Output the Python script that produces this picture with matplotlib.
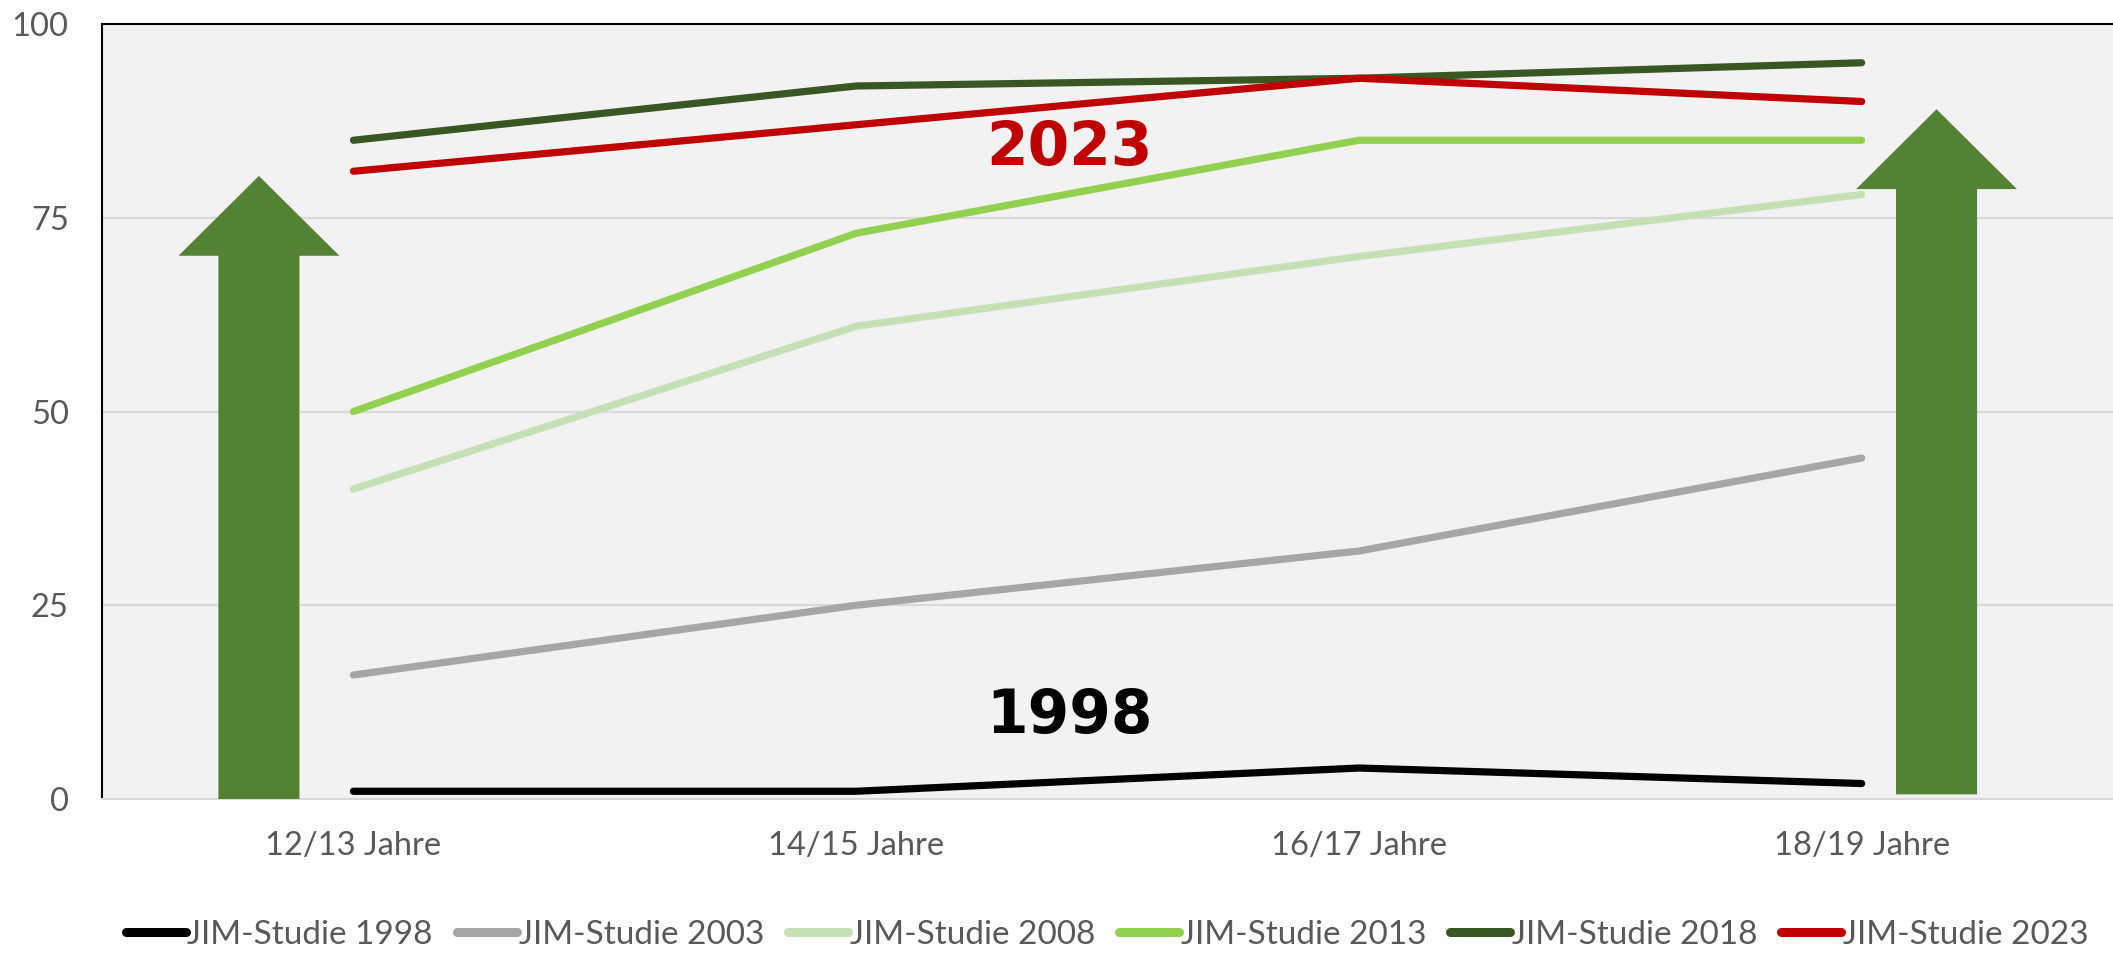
import matplotlib
matplotlib.use("Agg")
import matplotlib.pyplot as plt
from matplotlib.patches import Polygon

plt.rcParams['font.family'] = ['Lato', 'DejaVu Sans']

categories = ['12/13 Jahre', '14/15 Jahre', '16/17 Jahre', '18/19 Jahre']
series_names = ['JIM-Studie 1998', 'JIM-Studie 2003', 'JIM-Studie 2008',
                'JIM-Studie 2013', 'JIM-Studie 2018', 'JIM-Studie 2023']
jim_1998 = [1, 1, 4, 2]
jim_2003 = [16, 25, 32, 44]
jim_2008 = [40, 61, 70, 78]
jim_2013 = [50, 73, 85, 85]
jim_2018 = [85, 92, 93, 95]
jim_2023 = [81, 87, 93, 90]
series_values = [jim_1998, jim_2003, jim_2008, jim_2013, jim_2018, jim_2023]
colors = ['#000000', '#a6a6a6', '#c5e0b4', '#92d050', '#385723', '#c00000']
yticks = [0, 25, 50, 75, 100]

fig = plt.figure(figsize=(21.13, 9.56), dpi=100)
ax = fig.add_axes([0.0483, 0.1642, 0.9517, 0.8107])
ax.set_facecolor('#f2f2f2')

x = list(range(len(categories)))
for name, vals, c in zip(series_names, series_values, colors):
    ax.plot(x, vals, color=c, lw=5.2, solid_capstyle='round', label=name, zorder=3)

# big green arrows
def up_arrow(xc, y0, y1, yhead, half_shaft=0.0806, half_head=0.160):
    pts = [(xc - half_shaft, y0), (xc + half_shaft, y0), (xc + half_shaft, yhead),
           (xc + half_head, yhead), (xc, y1), (xc - half_head, yhead),
           (xc - half_shaft, yhead)]
    ax.add_patch(Polygon(pts, closed=True, facecolor='#548235', edgecolor='none', zorder=4))

up_arrow(-0.188, 0, 80.4, 70.1)
up_arrow(3.149, 0.6, 89.0, 78.7)

ax.text(1.425, 84.0, '2023', color='#c00000', fontsize=43, fontweight='bold',
        family='DejaVu Sans', ha='center', va='center', zorder=5)
ax.text(1.425, 10.6, '1998', color='#000000', fontsize=43, fontweight='bold',
        family='DejaVu Sans', ha='center', va='center', zorder=5)

ax.set_xlim(-0.5, 3.5)
ax.set_ylim(0, 100)
ax.set_xticks(x)
ax.set_xticklabels(categories)
ax.set_yticks(yticks)
ax.tick_params(axis='both', length=0, labelsize=23.5, labelcolor='#595959')
ax.tick_params(axis='y', pad=24)
ax.tick_params(axis='x', pad=23)
ax.yaxis.grid(True, color='#d9d9d9', lw=1.5)
ax.set_axisbelow(True)

for s in ['top', 'left']:
    ax.spines[s].set_color('black')
    ax.spines[s].set_linewidth(1.5)
ax.spines['right'].set_visible(False)
ax.spines['bottom'].set_color('#d9d9d9')
ax.spines['bottom'].set_linewidth(1.5)

leg = fig.legend(loc='center', bbox_to_anchor=(0.524, 0.022), ncol=6, frameon=False,
                 fontsize=24, handlelength=1.8, handletextpad=0.05, columnspacing=0.72,
                 labelcolor='#595959')
for h in leg.legend_handles:
    h.set_linewidth(6.5)

fig.savefig('out.png', dpi=100)
